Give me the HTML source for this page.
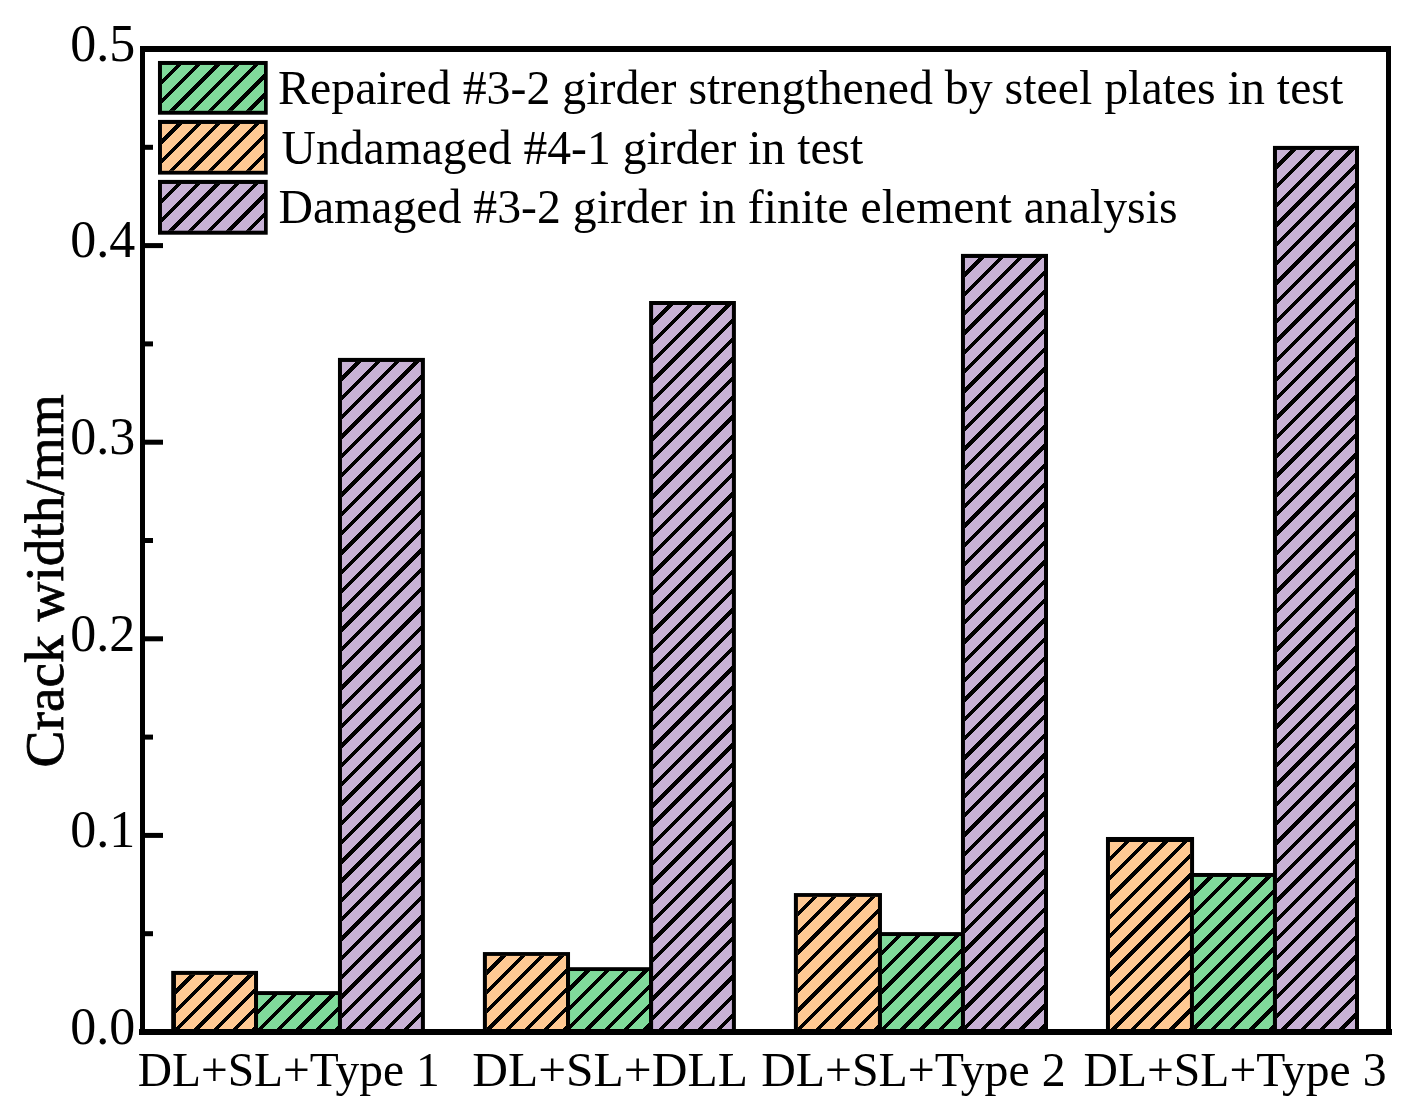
<!DOCTYPE html>
<html><head><meta charset="utf-8"><style>
html,body{margin:0;padding:0;background:#fff;}
svg{display:block;}
.tk{font-family:"Liberation Serif",serif;font-size:52px;fill:#000;}
.t{font-family:"Liberation Serif",serif;font-size:48px;fill:#000;}
.yt{font-family:"Liberation Serif",serif;font-size:55.3px;fill:#000;stroke:#000;stroke-width:0.8px;}
</style></head><body>
<svg width="1408" height="1112" viewBox="0 0 1408 1112">
<defs><clipPath id="c1"><rect x="175.97" y="974.90" width="78.06" height="54.10"/></clipPath><clipPath id="c2"><rect x="258.03" y="995.03" width="79.93" height="33.97"/></clipPath><clipPath id="c3"><rect x="341.96" y="361.96" width="78.94" height="667.04"/></clipPath><clipPath id="c4"><rect x="486.90" y="955.90" width="79.13" height="73.10"/></clipPath><clipPath id="c5"><rect x="570.03" y="971.03" width="79.07" height="57.97"/></clipPath><clipPath id="c6"><rect x="653.10" y="305.00" width="78.80" height="724.00"/></clipPath><clipPath id="c7"><rect x="797.90" y="896.90" width="80.06" height="132.10"/></clipPath><clipPath id="c8"><rect x="881.96" y="936.03" width="79.00" height="92.97"/></clipPath><clipPath id="c9"><rect x="964.96" y="257.96" width="79.04" height="771.04"/></clipPath><clipPath id="c10"><rect x="1109.96" y="842.00" width="80.11" height="187.00"/></clipPath><clipPath id="c11"><rect x="1193.95" y="876.95" width="79.01" height="152.05"/></clipPath><clipPath id="c12"><rect x="1276.96" y="149.96" width="78.04" height="879.04"/></clipPath><clipPath id="c13"><rect x="161.96" y="64.96" width="102.04" height="45.84"/></clipPath><clipPath id="c14"><rect x="161.96" y="123.96" width="102.04" height="46.84"/></clipPath><clipPath id="c15"><rect x="161.96" y="183.96" width="102.04" height="46.74"/></clipPath></defs>
<rect width="1408" height="1112" fill="#fff"/>
<rect x="171.20" y="970.90" width="86.83" height="59.10" fill="#000"/><rect x="175.97" y="974.90" width="78.06" height="54.10" fill="#FFC993"/><path clip-path="url(#c1)" d="M165.97,962.96L264.03,864.90M165.97,982.27L264.03,884.21M165.97,1001.58L264.03,903.52M165.97,1020.89L264.03,922.83M165.97,1040.20L264.03,942.14M165.97,1059.51L264.03,961.45M165.97,1078.82L264.03,980.76M165.97,1098.13L264.03,1000.07M165.97,1117.44L264.03,1019.38M165.97,1136.75L264.03,1038.69" stroke="#000" stroke-width="3.783" fill="none" shape-rendering="crispEdges"/><rect x="254.03" y="991.10" width="87.93" height="38.90" fill="#000"/><rect x="258.03" y="995.03" width="79.93" height="33.97" fill="#80DA9B"/><path clip-path="url(#c2)" d="M248.03,983.05L347.96,883.12M248.03,1002.36L347.96,902.43M248.03,1021.67L347.96,921.74M248.03,1040.98L347.96,941.05M248.03,1060.29L347.96,960.36M248.03,1079.60L347.96,979.67M248.03,1098.91L347.96,998.98M248.03,1118.22L347.96,1018.29M248.03,1137.53L347.96,1037.60M248.03,1156.84L347.96,1056.91" stroke="#000" stroke-width="3.783" fill="none" shape-rendering="crispEdges"/><rect x="337.96" y="357.90" width="86.94" height="672.10" fill="#000"/><rect x="341.96" y="361.96" width="78.94" height="667.04" fill="#C8B2D6"/><path clip-path="url(#c3)" d="M331.96,350.02L430.90,251.08M331.96,369.33L430.90,270.39M331.96,388.64L430.90,289.70M331.96,407.95L430.90,309.01M331.96,427.26L430.90,328.32M331.96,446.57L430.90,347.63M331.96,465.88L430.90,366.94M331.96,485.19L430.90,386.25M331.96,504.50L430.90,405.56M331.96,523.81L430.90,424.87M331.96,543.12L430.90,444.18M331.96,562.43L430.90,463.49M331.96,581.74L430.90,482.80M331.96,601.05L430.90,502.11M331.96,620.36L430.90,521.42M331.96,639.67L430.90,540.73M331.96,658.98L430.90,560.04M331.96,678.29L430.90,579.35M331.96,697.60L430.90,598.66M331.96,716.91L430.90,617.97M331.96,736.22L430.90,637.28M331.96,755.53L430.90,656.59M331.96,774.84L430.90,675.90M331.96,794.15L430.90,695.21M331.96,813.46L430.90,714.52M331.96,832.77L430.90,733.83M331.96,852.08L430.90,753.14M331.96,871.39L430.90,772.45M331.96,890.70L430.90,791.76M331.96,910.01L430.90,811.07M331.96,929.32L430.90,830.38M331.96,948.63L430.90,849.69M331.96,967.94L430.90,869.00M331.96,987.25L430.90,888.31M331.96,1006.56L430.90,907.62M331.96,1025.87L430.90,926.93M331.96,1045.18L430.90,946.24M331.96,1064.49L430.90,965.55M331.96,1083.80L430.90,984.86M331.96,1103.11L430.90,1004.17M331.96,1122.42L430.90,1023.48M331.96,1141.73L430.90,1042.79" stroke="#000" stroke-width="3.783" fill="none" shape-rendering="crispEdges"/><rect x="482.90" y="952.07" width="87.13" height="77.93" fill="#000"/><rect x="486.90" y="955.90" width="79.13" height="73.10" fill="#FFC993"/><path clip-path="url(#c4)" d="M476.90,943.93L576.03,844.80M476.90,963.24L576.03,864.11M476.90,982.55L576.03,883.42M476.90,1001.86L576.03,902.73M476.90,1021.17L576.03,922.04M476.90,1040.48L576.03,941.35M476.90,1059.79L576.03,960.66M476.90,1079.10L576.03,979.97M476.90,1098.41L576.03,999.28M476.90,1117.72L576.03,1018.59M476.90,1137.03L576.03,1037.90M476.90,1156.34L576.03,1057.21" stroke="#000" stroke-width="3.783" fill="none" shape-rendering="crispEdges"/><rect x="566.03" y="967.20" width="87.07" height="62.80" fill="#000"/><rect x="570.03" y="971.03" width="79.07" height="57.97" fill="#80DA9B"/><path clip-path="url(#c5)" d="M560.03,959.95L659.10,860.88M560.03,979.26L659.10,880.19M560.03,998.57L659.10,899.50M560.03,1017.88L659.10,918.81M560.03,1037.19L659.10,938.12M560.03,1056.50L659.10,957.43M560.03,1075.81L659.10,976.74M560.03,1095.12L659.10,996.05M560.03,1114.43L659.10,1015.36M560.03,1133.74L659.10,1034.67M560.03,1153.05L659.10,1053.98" stroke="#000" stroke-width="3.783" fill="none" shape-rendering="crispEdges"/><rect x="649.10" y="301.00" width="86.80" height="729.00" fill="#000"/><rect x="653.10" y="305.00" width="78.80" height="724.00" fill="#C8B2D6"/><path clip-path="url(#c6)" d="M643.10,293.88L741.90,195.08M643.10,313.19L741.90,214.39M643.10,332.50L741.90,233.70M643.10,351.81L741.90,253.01M643.10,371.12L741.90,272.32M643.10,390.43L741.90,291.63M643.10,409.74L741.90,310.94M643.10,429.05L741.90,330.25M643.10,448.36L741.90,349.56M643.10,467.67L741.90,368.87M643.10,486.98L741.90,388.18M643.10,506.29L741.90,407.49M643.10,525.60L741.90,426.80M643.10,544.91L741.90,446.11M643.10,564.22L741.90,465.42M643.10,583.53L741.90,484.73M643.10,602.84L741.90,504.04M643.10,622.15L741.90,523.35M643.10,641.46L741.90,542.66M643.10,660.77L741.90,561.97M643.10,680.08L741.90,581.28M643.10,699.39L741.90,600.59M643.10,718.70L741.90,619.90M643.10,738.01L741.90,639.21M643.10,757.32L741.90,658.52M643.10,776.63L741.90,677.83M643.10,795.94L741.90,697.14M643.10,815.25L741.90,716.45M643.10,834.56L741.90,735.76M643.10,853.87L741.90,755.07M643.10,873.18L741.90,774.38M643.10,892.49L741.90,793.69M643.10,911.80L741.90,813.00M643.10,931.11L741.90,832.31M643.10,950.42L741.90,851.62M643.10,969.73L741.90,870.93M643.10,989.04L741.90,890.24M643.10,1008.35L741.90,909.55M643.10,1027.66L741.90,928.86M643.10,1046.97L741.90,948.17M643.10,1066.28L741.90,967.48M643.10,1085.59L741.90,986.79M643.10,1104.90L741.90,1006.10M643.10,1124.21L741.90,1025.41M643.10,1143.52L741.90,1044.72" stroke="#000" stroke-width="3.783" fill="none" shape-rendering="crispEdges"/><rect x="793.90" y="893.07" width="88.06" height="136.93" fill="#000"/><rect x="797.90" y="896.90" width="80.06" height="132.10" fill="#FFC993"/><path clip-path="url(#c7)" d="M787.90,885.48L887.96,785.42M787.90,904.79L887.96,804.73M787.90,924.10L887.96,824.04M787.90,943.41L887.96,843.35M787.90,962.72L887.96,862.66M787.90,982.03L887.96,881.97M787.90,1001.34L887.96,901.28M787.90,1020.65L887.96,920.59M787.90,1039.96L887.96,939.90M787.90,1059.27L887.96,959.21M787.90,1078.58L887.96,978.52M787.90,1097.89L887.96,997.83M787.90,1117.20L887.96,1017.14M787.90,1136.51L887.96,1036.45M787.90,1155.82L887.96,1055.76" stroke="#000" stroke-width="3.783" fill="none" shape-rendering="crispEdges"/><rect x="877.96" y="932.10" width="87.00" height="97.90" fill="#000"/><rect x="881.96" y="936.03" width="79.00" height="92.97" fill="#80DA9B"/><path clip-path="url(#c8)" d="M871.96,924.22L970.96,825.22M871.96,943.53L970.96,844.53M871.96,962.84L970.96,863.84M871.96,982.15L970.96,883.15M871.96,1001.46L970.96,902.46M871.96,1020.77L970.96,921.77M871.96,1040.08L970.96,941.08M871.96,1059.39L970.96,960.39M871.96,1078.70L970.96,979.70M871.96,1098.01L970.96,999.01M871.96,1117.32L970.96,1018.32M871.96,1136.63L970.96,1037.63M871.96,1155.94L970.96,1056.94" stroke="#000" stroke-width="3.783" fill="none" shape-rendering="crispEdges"/><rect x="960.96" y="253.90" width="87.04" height="776.10" fill="#000"/><rect x="964.96" y="257.96" width="79.04" height="771.04" fill="#C8B2D6"/><path clip-path="url(#c9)" d="M954.96,246.02L1054.00,146.98M954.96,265.33L1054.00,166.29M954.96,284.64L1054.00,185.60M954.96,303.95L1054.00,204.91M954.96,323.26L1054.00,224.22M954.96,342.57L1054.00,243.53M954.96,361.88L1054.00,262.84M954.96,381.19L1054.00,282.15M954.96,400.50L1054.00,301.46M954.96,419.81L1054.00,320.77M954.96,439.12L1054.00,340.08M954.96,458.43L1054.00,359.39M954.96,477.74L1054.00,378.70M954.96,497.05L1054.00,398.01M954.96,516.36L1054.00,417.32M954.96,535.67L1054.00,436.63M954.96,554.98L1054.00,455.94M954.96,574.29L1054.00,475.25M954.96,593.60L1054.00,494.56M954.96,612.91L1054.00,513.87M954.96,632.22L1054.00,533.18M954.96,651.53L1054.00,552.49M954.96,670.84L1054.00,571.80M954.96,690.15L1054.00,591.11M954.96,709.46L1054.00,610.42M954.96,728.77L1054.00,629.73M954.96,748.08L1054.00,649.04M954.96,767.39L1054.00,668.35M954.96,786.70L1054.00,687.66M954.96,806.01L1054.00,706.97M954.96,825.32L1054.00,726.28M954.96,844.63L1054.00,745.59M954.96,863.94L1054.00,764.90M954.96,883.25L1054.00,784.21M954.96,902.56L1054.00,803.52M954.96,921.87L1054.00,822.83M954.96,941.18L1054.00,842.14M954.96,960.49L1054.00,861.45M954.96,979.80L1054.00,880.76M954.96,999.11L1054.00,900.07M954.96,1018.42L1054.00,919.38M954.96,1037.73L1054.00,938.69M954.96,1057.04L1054.00,958.00M954.96,1076.35L1054.00,977.31M954.96,1095.66L1054.00,996.62M954.96,1114.97L1054.00,1015.93M954.96,1134.28L1054.00,1035.24M954.96,1153.59L1054.00,1054.55" stroke="#000" stroke-width="3.783" fill="none" shape-rendering="crispEdges"/><rect x="1105.96" y="836.98" width="88.11" height="193.02" fill="#000"/><rect x="1109.96" y="842.00" width="80.11" height="187.00" fill="#FFC993"/><path clip-path="url(#c10)" d="M1099.96,830.22L1200.07,730.11M1099.96,849.53L1200.07,749.42M1099.96,868.84L1200.07,768.73M1099.96,888.15L1200.07,788.04M1099.96,907.46L1200.07,807.35M1099.96,926.77L1200.07,826.66M1099.96,946.08L1200.07,845.97M1099.96,965.39L1200.07,865.28M1099.96,984.70L1200.07,884.59M1099.96,1004.01L1200.07,903.90M1099.96,1023.32L1200.07,923.21M1099.96,1042.63L1200.07,942.52M1099.96,1061.94L1200.07,961.83M1099.96,1081.25L1200.07,981.14M1099.96,1100.56L1200.07,1000.45M1099.96,1119.87L1200.07,1019.76M1099.96,1139.18L1200.07,1039.07" stroke="#000" stroke-width="3.783" fill="none" shape-rendering="crispEdges"/><rect x="1189.95" y="872.98" width="87.01" height="157.02" fill="#000"/><rect x="1193.95" y="876.95" width="79.01" height="152.05" fill="#80DA9B"/><path clip-path="url(#c11)" d="M1183.95,864.93L1282.96,765.92M1183.95,884.24L1282.96,785.23M1183.95,903.55L1282.96,804.54M1183.95,922.86L1282.96,823.85M1183.95,942.17L1282.96,843.16M1183.95,961.48L1282.96,862.47M1183.95,980.79L1282.96,881.78M1183.95,1000.10L1282.96,901.09M1183.95,1019.41L1282.96,920.40M1183.95,1038.72L1282.96,939.71M1183.95,1058.03L1282.96,959.02M1183.95,1077.34L1282.96,978.33M1183.95,1096.65L1282.96,997.64M1183.95,1115.96L1282.96,1016.95M1183.95,1135.27L1282.96,1036.26M1183.95,1154.58L1282.96,1055.57" stroke="#000" stroke-width="3.783" fill="none" shape-rendering="crispEdges"/><rect x="1272.96" y="145.90" width="86.04" height="884.10" fill="#000"/><rect x="1276.96" y="149.96" width="78.04" height="879.04" fill="#C8B2D6"/><path clip-path="url(#c12)" d="M1266.96,138.02L1365.00,39.98M1266.96,157.33L1365.00,59.29M1266.96,176.64L1365.00,78.60M1266.96,195.95L1365.00,97.91M1266.96,215.26L1365.00,117.22M1266.96,234.57L1365.00,136.53M1266.96,253.88L1365.00,155.84M1266.96,273.19L1365.00,175.15M1266.96,292.50L1365.00,194.46M1266.96,311.81L1365.00,213.77M1266.96,331.12L1365.00,233.08M1266.96,350.43L1365.00,252.39M1266.96,369.74L1365.00,271.70M1266.96,389.05L1365.00,291.01M1266.96,408.36L1365.00,310.32M1266.96,427.67L1365.00,329.63M1266.96,446.98L1365.00,348.94M1266.96,466.29L1365.00,368.25M1266.96,485.60L1365.00,387.56M1266.96,504.91L1365.00,406.87M1266.96,524.22L1365.00,426.18M1266.96,543.53L1365.00,445.49M1266.96,562.84L1365.00,464.80M1266.96,582.15L1365.00,484.11M1266.96,601.46L1365.00,503.42M1266.96,620.77L1365.00,522.73M1266.96,640.08L1365.00,542.04M1266.96,659.39L1365.00,561.35M1266.96,678.70L1365.00,580.66M1266.96,698.01L1365.00,599.97M1266.96,717.32L1365.00,619.28M1266.96,736.63L1365.00,638.59M1266.96,755.94L1365.00,657.90M1266.96,775.25L1365.00,677.21M1266.96,794.56L1365.00,696.52M1266.96,813.87L1365.00,715.83M1266.96,833.18L1365.00,735.14M1266.96,852.49L1365.00,754.45M1266.96,871.80L1365.00,773.76M1266.96,891.11L1365.00,793.07M1266.96,910.42L1365.00,812.38M1266.96,929.73L1365.00,831.69M1266.96,949.04L1365.00,851.00M1266.96,968.35L1365.00,870.31M1266.96,987.66L1365.00,889.62M1266.96,1006.97L1365.00,908.93M1266.96,1026.28L1365.00,928.24M1266.96,1045.59L1365.00,947.55M1266.96,1064.90L1365.00,966.86M1266.96,1084.21L1365.00,986.17M1266.96,1103.52L1365.00,1005.48M1266.96,1122.83L1365.00,1024.79M1266.96,1142.14L1365.00,1044.10" stroke="#000" stroke-width="3.783" fill="none" shape-rendering="crispEdges"/>
<rect x="140" y="46" width="5" height="989" fill="#000"/><rect x="1386" y="46" width="5" height="989" fill="#000"/><rect x="140" y="46" width="1251" height="6" fill="#000"/><rect x="139" y="1029" width="1253" height="6" fill="#000"/><rect x="140" y="1029.50" width="23" height="5" fill="#000"/><rect x="140" y="931.20" width="13" height="5" fill="#000"/><rect x="140" y="832.90" width="23" height="5" fill="#000"/><rect x="140" y="734.60" width="13" height="5" fill="#000"/><rect x="140" y="636.30" width="23" height="5" fill="#000"/><rect x="140" y="538.00" width="13" height="5" fill="#000"/><rect x="140" y="439.70" width="23" height="5" fill="#000"/><rect x="140" y="341.40" width="13" height="5" fill="#000"/><rect x="140" y="243.10" width="23" height="5" fill="#000"/><rect x="140" y="144.80" width="13" height="5" fill="#000"/><rect x="140" y="46.50" width="23" height="5" fill="#000"/>
<rect x="157.96" y="60.96" width="109.74" height="53.74" fill="#000"/><rect x="161.96" y="64.96" width="102.04" height="45.84" fill="#80DA9B"/><path clip-path="url(#c13)" d="M151.96,53.22L274.00,-68.82M151.96,72.53L274.00,-49.51M151.96,91.84L274.00,-30.20M151.96,111.15L274.00,-10.89M151.96,130.46L274.00,8.42M151.96,149.77L274.00,27.73M151.96,169.08L274.00,47.04M151.96,188.39L274.00,66.35M151.96,207.70L274.00,85.66M151.96,227.01L274.00,104.97M151.96,246.32L274.00,124.28" stroke="#000" stroke-width="3.783" fill="none" shape-rendering="crispEdges"/><rect x="158.00" y="119.90" width="109.70" height="54.70" fill="#000"/><rect x="161.96" y="123.96" width="102.04" height="46.84" fill="#FFC993"/><path clip-path="url(#c14)" d="M151.96,112.87L274.00,-9.17M151.96,132.18L274.00,10.14M151.96,151.49L274.00,29.45M151.96,170.80L274.00,48.76M151.96,190.11L274.00,68.07M151.96,209.42L274.00,87.38M151.96,228.73L274.00,106.69M151.96,248.04L274.00,126.00M151.96,267.35L274.00,145.31M151.96,286.66L274.00,164.62M151.96,305.97L274.00,183.93" stroke="#000" stroke-width="3.783" fill="none" shape-rendering="crispEdges"/><rect x="158.00" y="179.90" width="109.70" height="54.80" fill="#000"/><rect x="161.96" y="183.96" width="102.04" height="46.74" fill="#C8B2D6"/><path clip-path="url(#c15)" d="M151.96,172.42L274.00,50.38M151.96,191.73L274.00,69.69M151.96,211.04L274.00,89.00M151.96,230.35L274.00,108.31M151.96,249.66L274.00,127.62M151.96,268.97L274.00,146.93M151.96,288.28L274.00,166.24M151.96,307.59L274.00,185.55M151.96,326.90L274.00,204.86M151.96,346.21L274.00,224.17M151.96,365.52L274.00,243.48" stroke="#000" stroke-width="3.783" fill="none" shape-rendering="crispEdges"/>
<text x="277.8" y="104.0" class="t" transform="translate(1.215,0) scale(0.99672,1)">Repaired #3-2 girder strengthened by steel plates in test</text><text x="277.8" y="163.7" class="t" transform="translate(6.042,0) scale(0.99197,1)">Undamaged #4-1 girder in test</text><text x="277.8" y="223.4" class="t" transform="translate(1.993,0) scale(0.99501,1)">Damaged #3-2 girder in finite element analysis</text><text x="135.2" y="1043.8" class="tk" text-anchor="end">0.0</text><text x="135.2" y="847.2" class="tk" text-anchor="end">0.1</text><text x="135.2" y="650.6" class="tk" text-anchor="end">0.2</text><text x="135.2" y="454.0" class="tk" text-anchor="end">0.3</text><text x="135.2" y="257.4" class="tk" text-anchor="end">0.4</text><text x="135.2" y="60.8" class="tk" text-anchor="end">0.5</text><text x="137.1" y="1085.8" class="t" transform="translate(2.108,0) scale(0.98907,1)">DL+SL+Type 1</text><text x="472.4" y="1085.8" class="t" transform="translate(-14.698,0) scale(1.03080,1)">DL+SL+DLL</text><text x="761.4" y="1085.8" class="t" transform="translate(2.435,0) scale(0.99668,1)">DL+SL+Type 2</text><text x="1083.0" y="1085.8" class="t" transform="translate(8.728,0) scale(0.99241,1)">DL+SL+Type 3</text><text class="yt" transform="translate(63.2,767.4) rotate(-90)">Crack width/mm</text>
</svg>
</body></html>
